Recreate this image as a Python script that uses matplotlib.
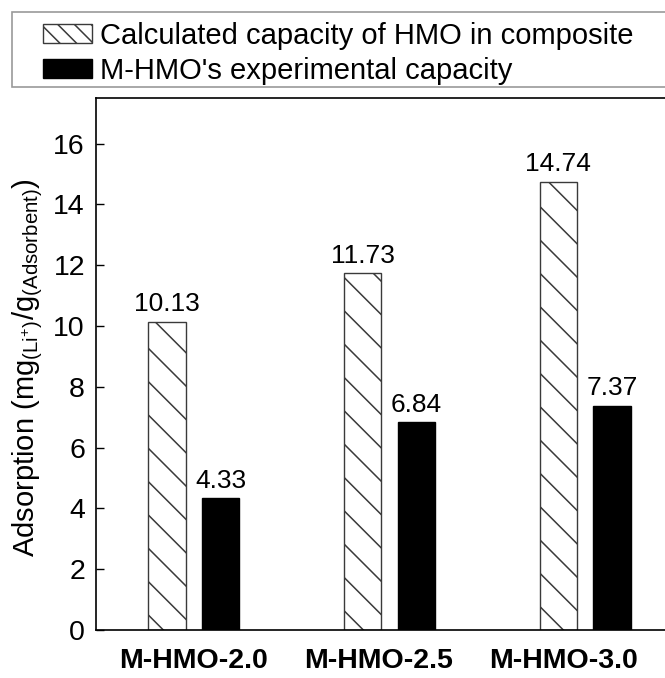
import matplotlib
matplotlib.use("Agg")
import matplotlib.pyplot as plt
import numpy as np
from matplotlib.patches import Patch, Rectangle

plt.rcParams['font.family'] = ['Liberation Sans', 'DejaVu Sans']
plt.rcParams['mathtext.fontset'] = 'custom'
plt.rcParams['mathtext.rm'] = 'Liberation Sans'
plt.rcParams['mathtext.it'] = 'Liberation Sans:italic'
plt.rcParams['hatch.linewidth'] = 1.1

categories = ['M-HMO-2.0', 'M-HMO-2.5', 'M-HMO-3.0']
calculated = [10.13, 11.73, 14.74]
experimental = [4.33, 6.84, 7.37]
series_labels = ['Calculated capacity of HMO in composite', "M-HMO's experimental capacity"]
yticks = [0, 2, 4, 6, 8, 10, 12, 14, 16]

W, H = 665, 678
fig = plt.figure(figsize=(W / 100, H / 100), dpi=100)
ax = fig.add_axes([96 / W, 1 - 630 / H, (683 - 96) / W, (630 - 98) / H])

x = np.arange(len(categories))
bw = 0.19
off = 0.137
b1 = ax.bar(x - off, calculated, bw, color='white', edgecolor='#3a3a3a',
            linewidth=1.0, hatch='\\')
b2 = ax.bar(x + off, experimental, bw, color='black', edgecolor='black', linewidth=1.0)

for bars, vals in ((b1, calculated), (b2, experimental)):
    for rect, v in zip(bars, vals):
        ax.annotate(f'{v:.2f}', (rect.get_x() + rect.get_width() / 2, v),
                    xytext=(0, 4), textcoords='offset points',
                    ha='center', va='bottom', fontsize=19)

ax.set_xlim(-0.5, 2.5)
ax.set_ylim(0, 17.5)
ax.set_yticks(yticks)
# category labels sit slightly left of their bar groups
ax.set_xticks(x * 0.945)
ax.set_xticklabels(categories, fontsize=20.5, fontweight='bold')
ax.tick_params(axis='y', direction='in', length=6, width=1, labelsize=20.5, pad=8)
ax.tick_params(axis='x', length=0, pad=13)
for s in ax.spines.values():
    s.set_linewidth(1.2)

ax.set_ylabel(r'Adsorption (mg$_{(\mathregular{Li^{+}})}$/g$_{(\mathregular{Adsorbent})}$)',
              fontsize=21)
ax.yaxis.set_label_coords(-0.087, 0.494)

# legend box spanning the top of the figure
fig.patches.append(Rectangle((12 / W, 1 - 87 / H), (700 - 12) / W, (87 - 12) / H,
                             transform=fig.transFigure, facecolor='white',
                             edgecolor='#9a9a9a', linewidth=1.2))
handles = [Patch(facecolor='white', edgecolor='#3a3a3a', hatch='\\\\', linewidth=1.0),
           Patch(facecolor='black', edgecolor='black')]
fig.legend(handles, series_labels, loc='upper left',
           bbox_to_anchor=(34 / W, 1 - 13 / H), frameon=False, fontsize=21,
           handlelength=1.68, handleheight=0.62, handletextpad=0.27,
           labelspacing=0.25, borderpad=0.3, borderaxespad=0)

fig.savefig('out.png', dpi=100)
